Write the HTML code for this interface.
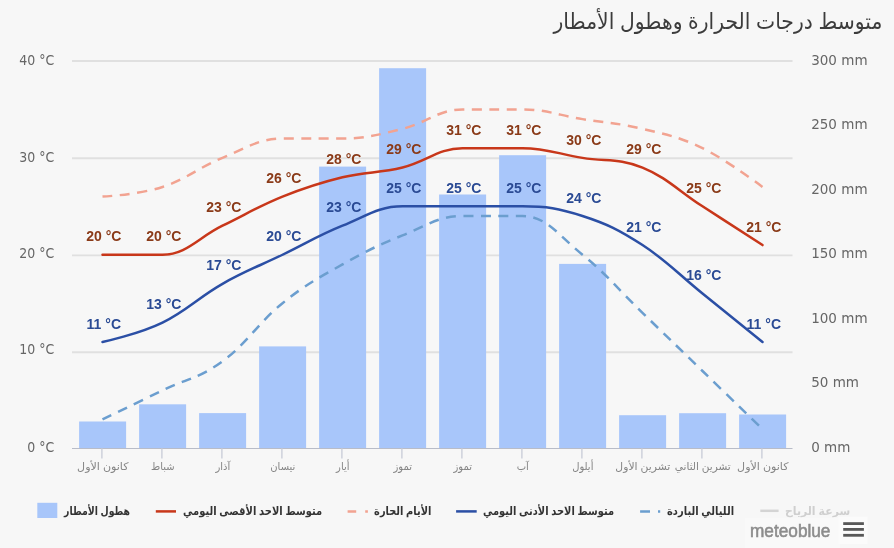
<!DOCTYPE html>
<html lang="ar"><head><meta charset="utf-8"><title>متوسط درجات الحرارة وهطول الأمطار</title>
<style>html,body{margin:0;padding:0;background:#f7f7f7;}body{width:894px;height:548px;overflow:hidden;}svg{display:block;}
.ax{font-family:'DejaVu Sans','Liberation Sans',sans-serif;font-size:13.5px;fill:#666666;}
.xl{font-family:'Liberation Sans','DejaVu Sans',sans-serif;font-size:10.5px;fill:#858585;}
.dl{font-family:'Liberation Sans','DejaVu Sans',sans-serif;font-size:14px;font-weight:bold;}
  .lg{font-family:'Liberation Sans','DejaVu Sans',sans-serif;font-size:11.5px;font-weight:bold;fill:#333;}
.ttl{font-family:'Liberation Sans','DejaVu Sans',sans-serif;font-size:22px;fill:#3c3c3c;}
</style></head><body>
<svg width="894" height="548" viewBox="0 0 894 548">
<rect x="0" y="0" width="894" height="548" fill="#f7f7f7"/>
<line x1="72" x2="792.5" y1="61.0" y2="61.0" stroke="#e0e0e0" stroke-width="1.9"/>
<line x1="72" x2="792.5" y1="158.2" y2="158.2" stroke="#e0e0e0" stroke-width="1.9"/>
<line x1="72" x2="792.5" y1="255.4" y2="255.4" stroke="#e0e0e0" stroke-width="1.9"/>
<line x1="72" x2="792.5" y1="352.2" y2="352.2" stroke="#e0e0e0" stroke-width="1.9"/>
<rect x="79.1" y="421.5" width="47" height="26.7" fill="#a8c6fa"/>
<rect x="139.1" y="404.3" width="47" height="43.9" fill="#a8c6fa"/>
<rect x="199.1" y="413.1" width="47" height="35.1" fill="#a8c6fa"/>
<rect x="259.1" y="346.4" width="47" height="101.8" fill="#a8c6fa"/>
<rect x="319.1" y="166.6" width="47" height="281.6" fill="#a8c6fa"/>
<rect x="379.1" y="68.2" width="47" height="380.0" fill="#a8c6fa"/>
<rect x="439.1" y="194.5" width="47" height="253.7" fill="#a8c6fa"/>
<rect x="499.1" y="155.2" width="47" height="293.0" fill="#a8c6fa"/>
<rect x="559.1" y="263.9" width="47" height="184.3" fill="#a8c6fa"/>
<rect x="619.1" y="415.2" width="47" height="33.0" fill="#a8c6fa"/>
<rect x="679.1" y="413.2" width="47" height="35.0" fill="#a8c6fa"/>
<rect x="739.1" y="414.5" width="47" height="33.7" fill="#a8c6fa"/>
<line x1="72" x2="792.5" y1="448.5" y2="448.5" stroke="#b8bcc8" stroke-width="1.1"/>
<line x1="101.9" x2="101.9" y1="448" y2="458.5" stroke="#c4c8d4" stroke-width="1.2"/>
<line x1="161.9" x2="161.9" y1="448" y2="458.5" stroke="#c4c8d4" stroke-width="1.2"/>
<line x1="221.9" x2="221.9" y1="448" y2="458.5" stroke="#c4c8d4" stroke-width="1.2"/>
<line x1="281.9" x2="281.9" y1="448" y2="458.5" stroke="#c4c8d4" stroke-width="1.2"/>
<line x1="341.9" x2="341.9" y1="448" y2="458.5" stroke="#c4c8d4" stroke-width="1.2"/>
<line x1="401.9" x2="401.9" y1="448" y2="458.5" stroke="#c4c8d4" stroke-width="1.2"/>
<line x1="461.9" x2="461.9" y1="448" y2="458.5" stroke="#c4c8d4" stroke-width="1.2"/>
<line x1="521.9" x2="521.9" y1="448" y2="458.5" stroke="#c4c8d4" stroke-width="1.2"/>
<line x1="581.9" x2="581.9" y1="448" y2="458.5" stroke="#c4c8d4" stroke-width="1.2"/>
<line x1="641.9" x2="641.9" y1="448" y2="458.5" stroke="#c4c8d4" stroke-width="1.2"/>
<line x1="701.9" x2="701.9" y1="448" y2="458.5" stroke="#c4c8d4" stroke-width="1.2"/>
<line x1="761.9" x2="761.9" y1="448" y2="458.5" stroke="#c4c8d4" stroke-width="1.2"/>
<path d="M102.50 419.44 C102.50 419.44 138.50 402.00 162.50 390.38 C186.50 378.75 198.50 378.75 222.50 361.31 C246.50 343.88 258.50 322.56 282.50 303.19 C306.50 283.81 318.50 278.00 342.50 264.44 C366.50 250.88 378.50 245.06 402.50 235.38 C426.50 225.69 438.50 216.00 462.50 216.00 C486.50 216.00 498.50 216.00 522.50 216.00 C546.50 216.00 558.50 235.38 582.50 254.75 C606.50 274.12 618.50 289.62 642.50 312.88 C666.50 336.12 678.50 347.75 702.50 371.00 C726.50 394.25 762.50 429.12 762.50 429.12" fill="none" stroke="#6b9ecf" stroke-width="2.5" stroke-dasharray="10 7.5"/>
<path d="M102.50 196.62 C102.50 196.62 138.50 194.69 162.50 186.94 C186.50 179.19 198.50 167.56 222.50 157.88 C246.50 148.19 258.50 138.50 282.50 138.50 C306.50 138.50 318.50 138.50 342.50 138.50 C366.50 138.50 378.50 134.62 402.50 128.81 C426.50 123.00 438.50 109.44 462.50 109.44 C486.50 109.44 498.50 109.44 522.50 109.44 C546.50 109.44 558.50 115.25 582.50 119.12 C606.50 123.00 618.50 123.00 642.50 128.81 C666.50 134.62 678.50 136.56 702.50 148.19 C726.50 159.81 762.50 186.94 762.50 186.94" fill="none" stroke="#f2a391" stroke-width="2.5" stroke-dasharray="10 7.5"/>
<path d="M102.50 341.94 C102.50 341.94 138.50 334.19 162.50 322.56 C186.50 310.94 198.50 297.38 222.50 283.81 C246.50 270.25 258.50 266.38 282.50 254.75 C306.50 243.12 318.50 235.38 342.50 225.69 C366.50 216.00 378.50 206.31 402.50 206.31 C426.50 206.31 438.50 206.31 462.50 206.31 C486.50 206.31 498.50 206.31 522.50 206.31 C546.50 206.31 558.50 208.25 582.50 216.00 C606.50 223.75 618.50 229.56 642.50 245.06 C666.50 260.56 678.50 274.12 702.50 293.50 C726.50 312.88 762.50 341.94 762.50 341.94" fill="none" stroke="#2b4fa5" stroke-width="2.5" stroke-linecap="round" stroke-linejoin="round"/>
<path d="M102.50 254.75 C102.50 254.75 138.50 254.75 162.50 254.75 C186.50 254.75 198.50 237.31 222.50 225.69 C246.50 214.06 258.50 206.31 282.50 196.62 C306.50 186.94 318.50 183.06 342.50 177.25 C366.50 171.44 378.50 173.38 402.50 167.56 C426.50 161.75 438.50 148.19 462.50 148.19 C486.50 148.19 498.50 148.19 522.50 148.19 C546.50 148.19 558.50 154.00 582.50 157.88 C606.50 161.75 618.50 157.88 642.50 167.56 C666.50 177.25 678.50 190.81 702.50 206.31 C726.50 221.81 762.50 245.06 762.50 245.06" fill="none" stroke="#c8371a" stroke-width="2.5" stroke-linecap="round" stroke-linejoin="round"/>
<text class="dl" x="103.8" y="241.3" text-anchor="middle" fill="#8a3a18">20 °C</text>
<text class="dl" x="163.8" y="241.3" text-anchor="middle" fill="#8a3a18">20 °C</text>
<text class="dl" x="223.8" y="212.3" text-anchor="middle" fill="#8a3a18">23 °C</text>
<text class="dl" x="283.8" y="183.2" text-anchor="middle" fill="#8a3a18">26 °C</text>
<text class="dl" x="343.8" y="163.8" text-anchor="middle" fill="#8a3a18">28 °C</text>
<text class="dl" x="403.8" y="154.2" text-anchor="middle" fill="#8a3a18">29 °C</text>
<text class="dl" x="463.8" y="134.8" text-anchor="middle" fill="#8a3a18">31 °C</text>
<text class="dl" x="523.8" y="134.8" text-anchor="middle" fill="#8a3a18">31 °C</text>
<text class="dl" x="583.8" y="144.5" text-anchor="middle" fill="#8a3a18">30 °C</text>
<text class="dl" x="643.8" y="154.2" text-anchor="middle" fill="#8a3a18">29 °C</text>
<text class="dl" x="703.8" y="192.9" text-anchor="middle" fill="#8a3a18">25 °C</text>
<text class="dl" x="763.8" y="231.7" text-anchor="middle" fill="#8a3a18">21 °C</text>
<text class="dl" x="103.8" y="328.5" text-anchor="middle" fill="#2a4a94">11 °C</text>
<text class="dl" x="163.8" y="309.2" text-anchor="middle" fill="#2a4a94">13 °C</text>
<text class="dl" x="223.8" y="270.4" text-anchor="middle" fill="#2a4a94">17 °C</text>
<text class="dl" x="283.8" y="241.3" text-anchor="middle" fill="#2a4a94">20 °C</text>
<text class="dl" x="343.8" y="212.3" text-anchor="middle" fill="#2a4a94">23 °C</text>
<text class="dl" x="403.8" y="192.9" text-anchor="middle" fill="#2a4a94">25 °C</text>
<text class="dl" x="463.8" y="192.9" text-anchor="middle" fill="#2a4a94">25 °C</text>
<text class="dl" x="523.8" y="192.9" text-anchor="middle" fill="#2a4a94">25 °C</text>
<text class="dl" x="583.8" y="202.6" text-anchor="middle" fill="#2a4a94">24 °C</text>
<text class="dl" x="643.8" y="231.7" text-anchor="middle" fill="#2a4a94">21 °C</text>
<text class="dl" x="703.8" y="280.1" text-anchor="middle" fill="#2a4a94">16 °C</text>
<text class="dl" x="763.8" y="328.5" text-anchor="middle" fill="#2a4a94">11 °C</text>
<text class="ax" transform="translate(54.2 451.9) scale(0.93 1)" text-anchor="end">0 °C</text>
<text class="ax" transform="translate(54.2 353.8) scale(0.93 1)" text-anchor="end">10 °C</text>
<text class="ax" transform="translate(54.2 257.7) scale(0.93 1)" text-anchor="end">20 °C</text>
<text class="ax" transform="translate(54.2 161.9) scale(0.93 1)" text-anchor="end">30 °C</text>
<text class="ax" transform="translate(54.2 64.7) scale(0.93 1)" text-anchor="end">40 °C</text>
<text class="ax" x="811.2" y="451.7">0 mm</text>
<text class="ax" x="811.2" y="387.2">50 mm</text>
<text class="ax" x="811.2" y="322.7">100 mm</text>
<text class="ax" x="811.2" y="258.2">150 mm</text>
<text class="ax" x="811.2" y="193.7">200 mm</text>
<text class="ax" x="811.2" y="129.2">250 mm</text>
<text class="ax" x="811.2" y="64.7">300 mm</text>
<text class="xl" transform="translate(102.80 469.80) scale(1.0558 1)" text-anchor="middle">كانون الأول</text>
<text class="xl" transform="translate(162.80 469.80) scale(0.9500 1)" text-anchor="middle">شباط</text>
<text class="xl" transform="translate(222.80 469.80) scale(0.9500 1)" text-anchor="middle">آذار</text>
<text class="xl" transform="translate(282.80 469.80) scale(0.9500 1)" text-anchor="middle">نيسان</text>
<text class="xl" transform="translate(342.80 469.80) scale(0.9500 1)" text-anchor="middle">أيار</text>
<text class="xl" transform="translate(402.80 469.80) scale(0.9500 1)" text-anchor="middle">تموز</text>
<text class="xl" transform="translate(462.80 469.80) scale(0.9500 1)" text-anchor="middle">تموز</text>
<text class="xl" transform="translate(522.80 469.80) scale(0.9500 1)" text-anchor="middle">آب</text>
<text class="xl" transform="translate(582.80 469.80) scale(0.9500 1)" text-anchor="middle">أيلول</text>
<text class="xl" transform="translate(642.80 469.80) scale(1.0275 1)" text-anchor="middle">تشرين الأول</text>
<text class="xl" transform="translate(702.80 469.80) scale(0.9986 1)" text-anchor="middle">تشرين الثاني</text>
<text class="xl" transform="translate(762.80 469.80) scale(1.0558 1)" text-anchor="middle">كانون الأول</text>
<text class="ttl" transform="translate(882.30 29.10) scale(0.9246 1)" text-anchor="end">متوسط درجات الحرارة وهطول الأمطار</text>
<rect x="37.3" y="502.8" width="20" height="15.2" fill="#a8c6fa"/>
<text class="lg" transform="translate(64.00 515.00) scale(0.8140 1)" text-anchor="start">هطول الأمطار</text>
<line x1="155.8" x2="176" y1="511.4" y2="511.4" stroke="#c8371a" stroke-width="2.5"/>
<text class="lg" transform="translate(183.10 515.00) scale(0.8608 1)" text-anchor="start">متوسط الاحد الأقصى اليومي</text>
<path d="M347.6 511.4H356.2M365.2 511.4H367.9" stroke="#f2a391" stroke-width="2.5" fill="none"/>
<text class="lg" transform="translate(374.10 515.00) scale(0.8546 1)" text-anchor="start">الأيام الحارة</text>
<line x1="456.1" x2="476.7" y1="511.4" y2="511.4" stroke="#2b4fa5" stroke-width="2.5"/>
<text class="lg" transform="translate(483.00 515.00) scale(0.8578 1)" text-anchor="start">متوسط الاحد الأدنى اليومي</text>
<path d="M640.1 511.4H650M658 511.4H660.2" stroke="#6b9ecf" stroke-width="2.5" fill="none"/>
<text class="lg" transform="translate(667.00 515.00) scale(0.8636 1)" text-anchor="start">الليالي الباردة</text>
<line x1="760.3" x2="778.6" y1="510.8" y2="510.8" stroke="#d4d4d4" stroke-width="2.5"/>
<text class="lg" transform="translate(785.00 515.00) scale(0.9473 1)" text-anchor="start" style="fill:#cfcfcf">سرعة الرياح</text>
<rect x="745" y="518" width="95" height="30" fill="#f9f9f9" opacity="0.85"/>
<text transform="translate(750 536.8) scale(0.985 1)" style="font-family:'Liberation Sans','DejaVu Sans',sans-serif;font-size:17.5px;fill:#8c8c8c;stroke:#8c8c8c;stroke-width:0.55px">meteoblue</text>
<rect x="838.2" y="516.6" width="29.4" height="27.4" fill="#fbfbfb"/>
<line x1="843.2" x2="863.9" y1="523.6" y2="523.6" stroke="#585858" stroke-width="2.8"/>
<line x1="843.2" x2="863.9" y1="529.4" y2="529.4" stroke="#585858" stroke-width="2.8"/>
<line x1="843.2" x2="863.9" y1="535.3" y2="535.3" stroke="#585858" stroke-width="2.8"/>
</svg></body></html>
